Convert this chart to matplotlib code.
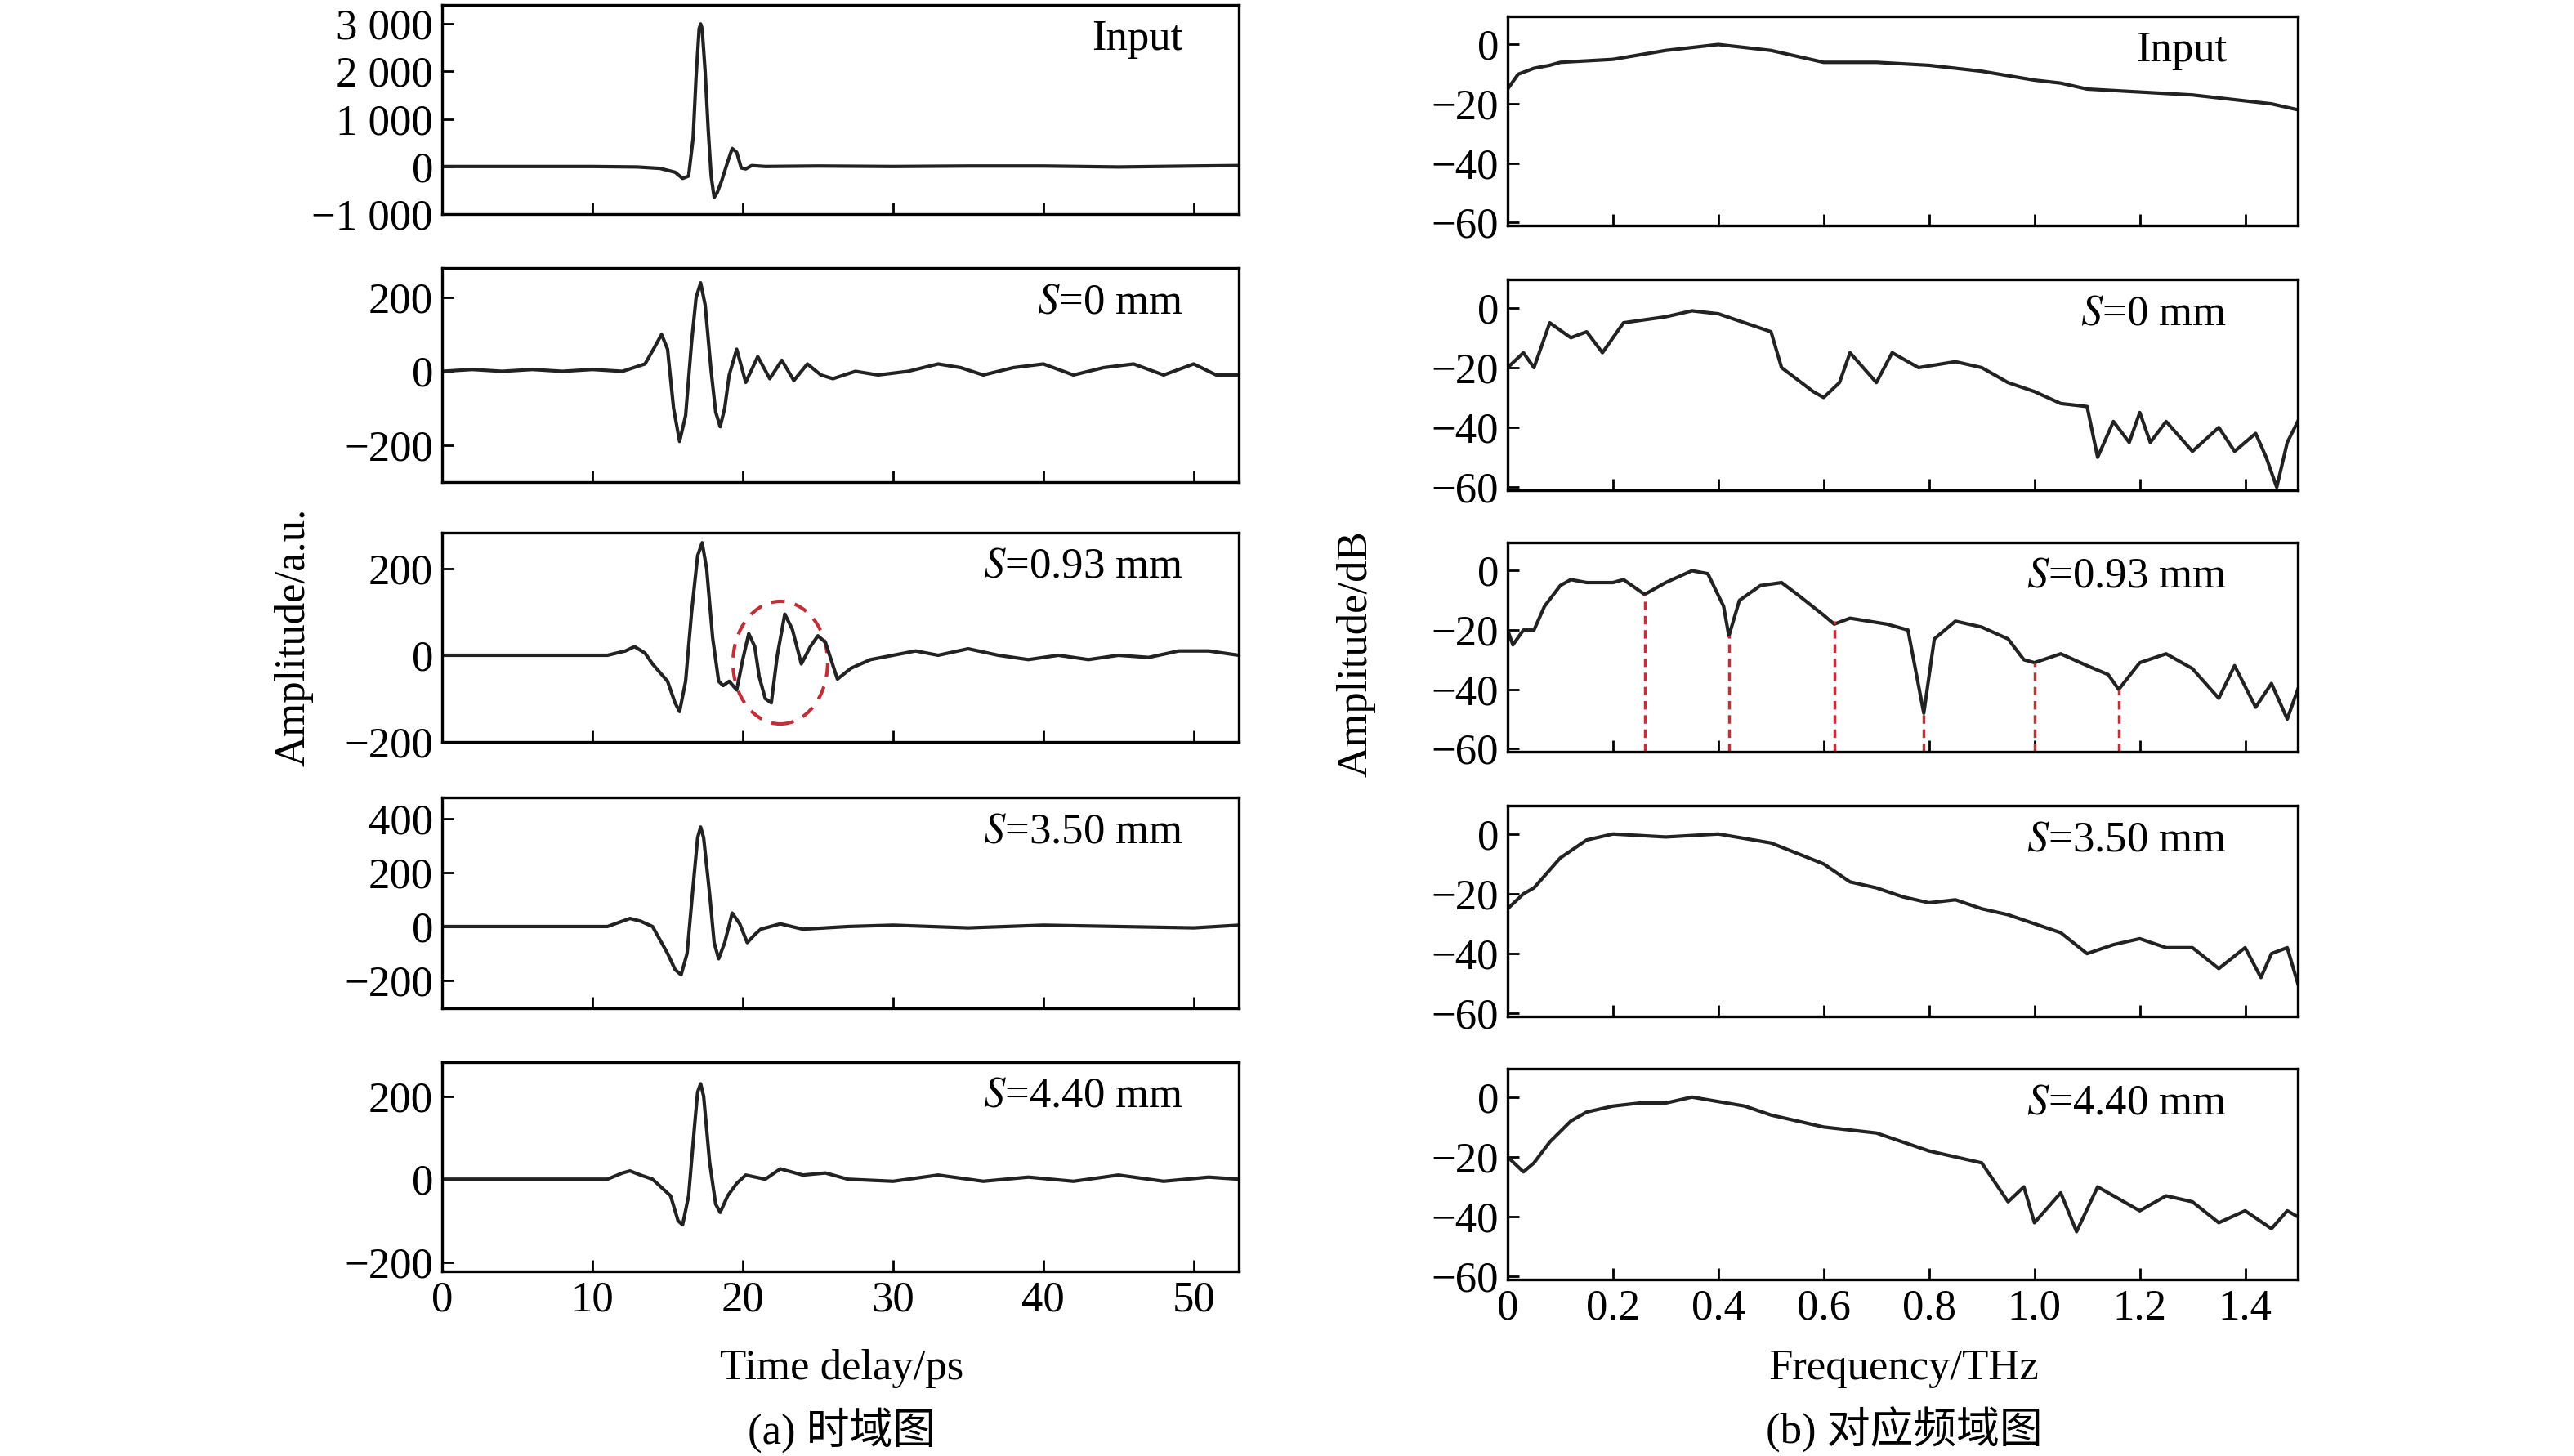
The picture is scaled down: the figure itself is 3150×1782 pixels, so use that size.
import numpy as np
import matplotlib.pyplot as plt
from matplotlib.patches import Ellipse
from matplotlib.ticker import FuncFormatter

plt.rcParams['font.family'] = ['Liberation Serif', 'Noto Sans CJK SC']
plt.rcParams['mathtext.fontset'] = 'stix'

# time domain (ps, a.u.)
t_in = [0, 5, 10, 13, 14.5, 15.5, 16.0, 16.4, 16.7, 16.9, 17.1, 17.2, 17.3, 17.5, 17.7, 17.9, 18.1, 18.3, 18.6, 19.0, 19.3, 19.6, 19.9, 20.2, 20.6, 21.5, 25, 30, 35, 40, 45, 50, 53]
y_in = [0, 0, 0, -10, -40, -120, -250, -200, 600, 1900, 2900, 3000, 2900, 2000, 800, -200, -650, -550, -300, 100, 380, 300, -30, -50, 20, 0, 10, 0, 10, 10, -10, 10, 20]

t_s0 = [0, 2, 4, 6, 8, 10, 12, 13.5, 14.2, 14.6, 15.0, 15.4, 15.8, 16.2, 16.6, 16.9, 17.2, 17.5, 17.9, 18.2, 18.5, 18.8, 19.1, 19.6, 20.2, 21, 21.8, 22.6, 23.4, 24.3, 25.2, 26, 27.5, 29, 31, 33, 34.5, 36, 38, 40, 42, 44, 46, 48, 50, 51.5, 53]
y_s0 = [0, 5, 0, 5, 0, 5, 0, 20, 70, 100, 60, -100, -190, -120, 80, 200, 240, 180, 0, -110, -150, -100, -10, 60, -30, 40, -20, 30, -25, 20, -10, -20, 0, -10, 0, 20, 10, -10, 10, 20, -10, 10, 20, -10, 20, -10, -10]

t_s1 = [0, 3, 6, 9, 11, 12.2, 12.8, 13.5, 14, 15, 15.5, 15.8, 16.2, 16.6, 17.0, 17.3, 17.6, 18.0, 18.4, 18.7, 19.1, 19.6, 20.0, 20.4, 20.8, 21.1, 21.5, 21.9, 22.3, 22.8, 23.3, 23.9, 24.5, 25.0, 25.5, 26.3, 27.2, 28.5, 30, 31.5, 33, 35, 37, 39, 41, 43, 45, 47, 49, 51, 53]
y_s1 = [0, 0, 0, 0, 0, 10, 20, 5, -20, -60, -110, -130, -60, 100, 230, 260, 200, 40, -60, -70, -60, -80, -10, 50, 20, -50, -100, -110, 0, 95, 60, -20, 20, 45, 30, -55, -30, -10, 0, 10, 0, 15, 0, -10, 0, -10, 0, -5, 10, 10, 0]

t_s2 = [0, 4, 8, 11, 12.0, 12.5, 13.2, 14, 15, 15.5, 15.9, 16.3, 16.7, 17.0, 17.2, 17.4, 17.8, 18.1, 18.4, 18.8, 19.3, 19.8, 20.3, 20.8, 21.2, 22.5, 24, 27, 30, 35, 40, 45, 50, 53]
y_s2 = [0, 0, 0, 0, 20, 30, 20, 0, -100, -160, -180, -100, 150, 330, 370, 330, 120, -60, -120, -60, 50, 10, -60, -30, -10, 10, -10, 0, 5, -5, 5, 0, -5, 5]

t_s3 = [0, 4, 8, 11, 12.0, 12.5, 13.2, 14, 15.2, 15.7, 16.0, 16.4, 16.8, 17.0, 17.2, 17.4, 17.8, 18.2, 18.5, 19.0, 19.6, 20.2, 21.5, 22.5, 24, 25.5, 27, 30, 33, 36, 39, 42, 45, 48, 51, 53]
y_s3 = [0, 0, 0, 0, 15, 20, 10, 0, -40, -100, -110, -40, 130, 210, 230, 200, 40, -60, -80, -40, -10, 10, 0, 25, 10, 15, 0, -5, 10, -5, 5, -5, 10, -5, 5, 0]

time_series = [(t_in, y_in), (t_s0, y_s0), (t_s1, y_s1), (t_s2, y_s2), (t_s3, y_s3)]
time_ylims = [(-1000, 3400), (-300, 280), (-200, 283), (-304, 480), (-222, 282)]
time_yticks = [[-1000, 0, 1000, 2000, 3000], [-200, 0, 200], [-200, 0, 200], [-200, 0, 200, 400], [-200, 0, 200]]

# frequency domain (THz, dB)
f_in = [0, 0.02, 0.05, 0.08, 0.1, 0.2, 0.3, 0.4, 0.45, 0.5, 0.6, 0.7, 0.8, 0.9, 1.0, 1.05, 1.1, 1.2, 1.3, 1.4, 1.45, 1.5]
a_in = [-15, -10, -8, -7, -6, -5, -2, 0, -1, -2, -6, -6, -7, -9, -12, -13, -15, -16, -17, -19, -20, -22]

f_s0 = [0, 0.03, 0.05, 0.08, 0.12, 0.15, 0.18, 0.22, 0.3, 0.35, 0.4, 0.45, 0.5, 0.52, 0.58, 0.6, 0.63, 0.65, 0.7, 0.73, 0.78, 0.85, 0.9, 0.95, 1.0, 1.05, 1.1, 1.12, 1.15, 1.18, 1.2, 1.22, 1.25, 1.3, 1.35, 1.38, 1.42, 1.44, 1.46, 1.48, 1.5]
a_s0 = [-20, -15, -20, -5, -10, -8, -15, -5, -3, -1, -2, -5, -8, -20, -28, -30, -25, -15, -25, -15, -20, -18, -20, -25, -28, -32, -33, -50, -38, -45, -35, -45, -38, -48, -40, -48, -42, -50, -60, -45, -38]

f_s1 = [0, 0.01, 0.03, 0.05, 0.07, 0.1, 0.12, 0.15, 0.2, 0.22, 0.26, 0.3, 0.35, 0.38, 0.41, 0.42, 0.44, 0.48, 0.52, 0.55, 0.6, 0.62, 0.65, 0.72, 0.76, 0.79, 0.81, 0.85, 0.9, 0.95, 0.98, 1.0, 1.05, 1.1, 1.14, 1.16, 1.2, 1.25, 1.3, 1.35, 1.38, 1.42, 1.45, 1.48, 1.5]
a_s1 = [-20, -25, -20, -20, -12, -5, -3, -4, -4, -3, -8, -4, 0, -1, -12, -22, -10, -5, -4, -8, -15, -18, -16, -18, -20, -48, -23, -17, -19, -23, -30, -31, -28, -32, -35, -40, -31, -28, -33, -43, -32, -46, -38, -50, -40]

f_s2 = [0, 0.03, 0.05, 0.1, 0.15, 0.2, 0.3, 0.4, 0.5, 0.6, 0.65, 0.7, 0.75, 0.8, 0.85, 0.9, 0.95, 1.0, 1.05, 1.1, 1.15, 1.2, 1.25, 1.3, 1.35, 1.4, 1.43, 1.45, 1.48, 1.5]
a_s2 = [-25, -20, -18, -8, -2, 0, -1, 0, -3, -10, -16, -18, -21, -23, -22, -25, -27, -30, -33, -40, -37, -35, -38, -38, -45, -38, -48, -40, -38, -50]

f_s3 = [0, 0.03, 0.05, 0.08, 0.12, 0.15, 0.2, 0.25, 0.3, 0.35, 0.45, 0.5, 0.55, 0.6, 0.7, 0.75, 0.8, 0.85, 0.9, 0.95, 0.98, 1.0, 1.05, 1.08, 1.12, 1.2, 1.25, 1.3, 1.35, 1.4, 1.45, 1.48, 1.5]
a_s3 = [-20, -25, -22, -15, -8, -5, -3, -2, -2, 0, -3, -6, -8, -10, -12, -15, -18, -20, -22, -35, -30, -42, -32, -45, -30, -38, -33, -35, -42, -38, -44, -38, -40]

freq_series = [(f_in, a_in), (f_s0, a_s0), (f_s1, a_s1), (f_s2, a_s2), (f_s3, a_s3)]
dip_freqs = [0.26, 0.42, 0.62, 0.79, 1.0, 1.16]
dip_vals = [-8, -22, -17, -48, -31, -40]

labels = ['Input', '$S$=0 mm', '$S$=0.93 mm', '$S$=3.50 mm', '$S$=4.40 mm']

W, H = 3150, 1782
fig = plt.figure(figsize=(W / 100, H / 100), dpi=100)
FS = 38
left_rows = [(6, 262), (328, 590), (652, 908), (976, 1234), (1300, 1556)]
right_rows = [(20, 276), (342, 600), (664, 920), (986, 1244), (1308, 1566)]
lx0, lx1 = 541, 1516
rx0, rx1 = 1845, 2812


def fmt(v, pos):
    s = f"{abs(int(v)):,}".replace(",", " ")
    return ("\u2212" if v < 0 else "") + s


red = '#c0303a'
for i in range(5):
    y0, y1 = left_rows[i]
    ax = fig.add_axes([lx0 / W, 1 - y1 / H, (lx1 - lx0) / W, (y1 - y0) / H])
    t, y = time_series[i]
    ax.plot(t, y, color='#222222', lw=3)
    ax.set_xlim(0, 53)
    ax.set_ylim(*time_ylims[i])
    ax.set_yticks(time_yticks[i])
    ax.yaxis.set_major_formatter(FuncFormatter(fmt))
    ax.set_xticks([0, 10, 20, 30, 40, 50])
    if i < 4:
        ax.set_xticklabels([])
    ax.tick_params(direction='in', labelsize=FS, length=10, width=2, pad=8)
    for sp in ax.spines.values():
        sp.set_linewidth(2.4)
    ax.text(0.93, 0.93, labels[i], transform=ax.transAxes, ha='right', va='top', fontsize=FS)
    if i == 2:
        ax.add_patch(Ellipse((22.5, -17), 6.3, 283, fill=False, ec=red, lw=3, ls=(0, (4, 3))))

for i in range(5):
    y0, y1 = right_rows[i]
    ax = fig.add_axes([rx0 / W, 1 - y1 / H, (rx1 - rx0) / W, (y1 - y0) / H])
    f, a = freq_series[i]
    ax.plot(f, a, color='#222222', lw=3)
    ax.set_xlim(0, 1.5)
    ax.set_ylim(-61, 9.5)
    ax.set_yticks([-60, -40, -20, 0])
    ax.yaxis.set_major_formatter(FuncFormatter(lambda v, p: ("\u2212" if v < 0 else "") + f"{abs(int(v))}"))
    ax.set_xticks([0, 0.2, 0.4, 0.6, 0.8, 1.0, 1.2, 1.4])
    ax.set_xticklabels(['0', '0.2', '0.4', '0.6', '0.8', '1.0', '1.2', '1.4'])
    if i < 4:
        ax.set_xticklabels([])
    ax.tick_params(direction='in', labelsize=FS, length=10, width=2, pad=8)
    for sp in ax.spines.values():
        sp.set_linewidth(2.4)
    ax.text(0.91, 0.93, labels[i], transform=ax.transAxes, ha='right', va='top', fontsize=FS)
    if i == 2:
        ax.vlines(dip_freqs, -61, dip_vals, colors=red, lw=2.5, linestyles=(0, (3, 2)))

fig.text(360 / W, 1 - 780 / H, 'Amplitude/a.u.', rotation=90, ha='center', va='center', fontsize=FS)
fig.text(1660 / W, 1 - 800 / H, 'Amplitude/dB', rotation=90, ha='center', va='center', fontsize=FS)
fig.text(1030 / W, 1 - 1675 / H, 'Time delay/ps', ha='center', va='center', fontsize=FS)
fig.text(2330 / W, 1 - 1675 / H, 'Frequency/THz', ha='center', va='center', fontsize=FS)
fig.text(1030 / W, 1 - 1750 / H, '(a) 时域图', ha='center', va='center', fontsize=FS)
fig.text(2330 / W, 1 - 1750 / H, '(b) 对应频域图', ha='center', va='center', fontsize=FS)

fig.savefig('out.png', dpi=100)
